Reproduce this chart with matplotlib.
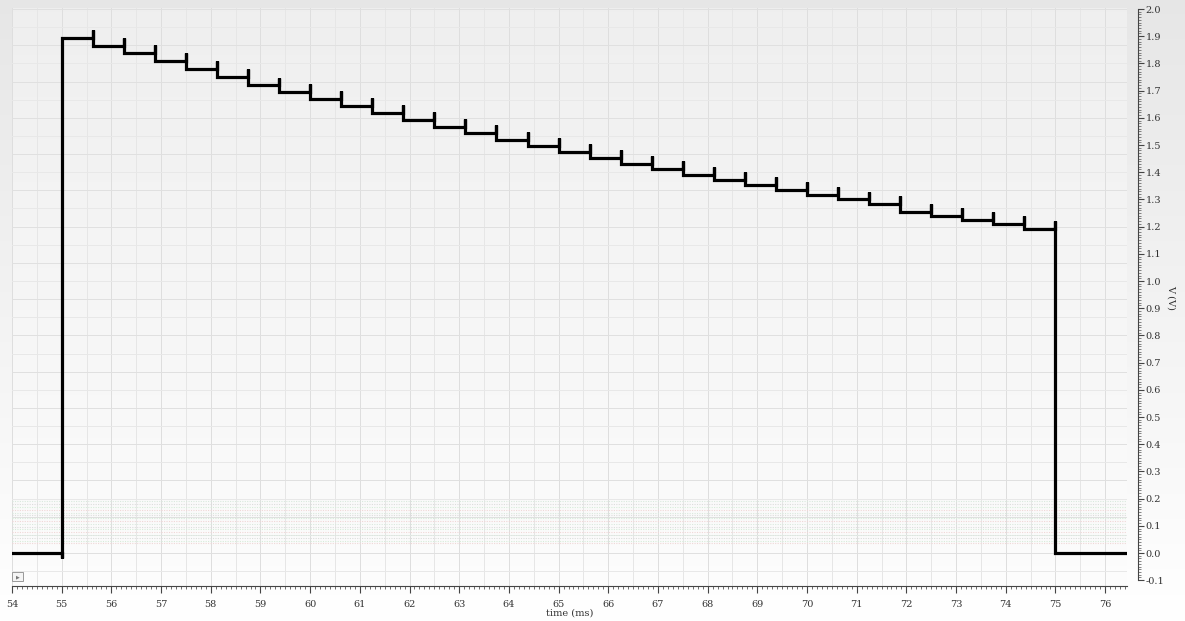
import numpy as np
import matplotlib
matplotlib.use("Agg")
import matplotlib.pyplot as plt
from matplotlib.ticker import MultipleLocator, FixedLocator
from matplotlib.patches import Rectangle

# ---------------- data ----------------
pulse_start = 55.0
pulse_end = 75.0
baseline = 0.0
start_dip = -0.02
step_times = [55.625, 56.25, 56.875, 57.5, 58.125, 58.75, 59.375, 60.0,
              60.625, 61.25, 61.875, 62.5, 63.125, 63.75, 64.375, 65.0,
              65.625, 66.25, 66.875, 67.5, 68.125, 68.75, 69.375, 70.0,
              70.625, 71.25, 71.875, 72.5, 73.125, 73.75, 74.375]
step_levels = [1.893, 1.864, 1.838, 1.810, 1.780, 1.750, 1.720, 1.695,
               1.670, 1.643, 1.618, 1.592, 1.566, 1.544, 1.518, 1.496,
               1.474, 1.452, 1.430, 1.412, 1.390, 1.371, 1.353, 1.335,
               1.316, 1.301, 1.283, 1.254, 1.239, 1.224, 1.210, 1.191]
spike = 0.028
x_range = (54.0, 76.44)
y_range = (-0.1213, 2.0037)
x_tick_labels = [str(v) for v in range(54, 77)]
y_ticks = [round(-0.1 + 0.1 * i, 1) for i in range(22)]
xlabel = "time (ms)"
ylabel = "V (V)"

# ---------------- build trace path ----------------
t = [x_range[0], pulse_start, pulse_start, pulse_start]
v = [baseline, baseline, start_dip, step_levels[0]]
for k, tk in enumerate(step_times):
    prev = step_levels[k]
    t += [tk, tk, tk]
    v += [prev, prev + spike, step_levels[k + 1]]
t += [pulse_end, pulse_end, pulse_end, x_range[1]]
v += [step_levels[-1], step_levels[-1] + spike, baseline, baseline]

# ---------------- figure ----------------
W, H = 1185, 621
fig = plt.figure(figsize=(W / 100, H / 100), dpi=100)
fig.patch.set_facecolor("white")

# figure background gradient
bg = fig.add_axes([0, 0, 1, 1], zorder=-10)
grad = np.linspace(0, 1, 256).reshape(-1, 1)
top_c = np.array([0.905, 0.905, 0.905])
bot_c = np.array([1.0, 1.0, 1.0])
img = top_c[None, None, :] * (1 - grad[:, :, None]) + bot_c[None, None, :] * grad[:, :, None]
img = np.concatenate([img[:1].repeat(3, axis=0), img], axis=0)
bg.imshow(img, aspect="auto", extent=(0, 1, 0, 1), origin="upper")
bg.set_axis_off()

left, right, top, bottom = 12, 1127, 8, 586
ax = fig.add_axes([left / W, 1 - bottom / H, (right - left) / W, (bottom - top) / H])
ax.set_xlim(*x_range)
ax.set_ylim(*y_range)
ax.set_facecolor("none")

# plot-area gradient
pgrad = np.linspace(0, 1, 256).reshape(-1, 1)
pc_top = np.array([0.937, 0.937, 0.937])
pc_bot = np.array([0.99, 0.99, 0.99])
pimg = pc_top[None, None, :] * (1 - pgrad[:, :, None]) + pc_bot[None, None, :] * pgrad[:, :, None]
ax.imshow(pimg, aspect="auto", extent=(x_range[0], x_range[1], y_range[0], y_range[1]),
          origin="upper", zorder=0)

# grid
for gx in np.arange(54.0, 76.5, 0.5):
    c = "#dedede" if abs(gx - round(gx)) < 1e-6 else "#e6e6e6"
    ax.axvline(gx, color=c, lw=0.7, zorder=1)
for k in range(-1, 31):
    gy = k / 15.0
    c = "#e0e0e0" if k % 2 == 0 else "#e8e8e8"
    ax.axhline(gy, color=c, lw=0.7, zorder=1)

# faint noise band
band_levels = np.linspace(0.035, 0.19, 16)
band_cols = ["#f0d6d6", "#d6ecd9", "#dcdcdc", "#d9e9dd"]
for i, by in enumerate(band_levels):
    ax.plot([x_range[0], x_range[1]], [by, by], color=band_cols[i % 4], lw=0.8,
            ls=(0, (1, 1.2)), zorder=2)

# trace
ax.plot(t, v, color="black", lw=2.3, solid_joinstyle="miter", zorder=5)

# spines/ticks
for s in ["top", "left"]:
    ax.spines[s].set_visible(False)
ax.spines["bottom"].set_color("#444444")
ax.spines["bottom"].set_linewidth(0.8)
ax.spines["right"].set_position(("outward", 8))
ax.spines["right"].set_bounds(-0.1, 2.0)
ax.spines["right"].set_color("#444444")
ax.spines["right"].set_linewidth(0.8)

ax.xaxis.set_major_locator(FixedLocator(list(range(54, 77))))
ax.set_xticklabels(x_tick_labels)
ax.xaxis.set_minor_locator(MultipleLocator(0.1))
ax.tick_params(axis="x", which="major", direction="out", length=5, width=0.8,
               color="#444444", labelsize=7, labelcolor="#333333", pad=5)
ax.tick_params(axis="x", which="minor", direction="out", length=2.5, width=0.6,
               color="#555555")

ax.yaxis.tick_right()
ax.yaxis.set_label_position("right")
ax.yaxis.set_major_locator(FixedLocator(y_ticks))
ax.set_yticklabels([f"{y:.1f}" for y in y_ticks])
ax.yaxis.set_minor_locator(FixedLocator(np.round(np.arange(-0.1, 2.0001, 0.01), 2)))
ax.tick_params(axis="y", which="major", direction="out", length=4.5, width=0.8,
               color="#444444", labelsize=7, labelcolor="#333333", pad=1)
ax.tick_params(axis="y", which="minor", direction="out", length=2, width=0.5,
               color="#555555")
for lab in ax.get_xticklabels() + ax.get_yticklabels():
    lab.set_family("DejaVu Serif")

ax.set_xlabel(xlabel, family="DejaVu Serif", fontsize=7, color="#333333", labelpad=0)
ax.set_ylabel(ylabel, family="DejaVu Serif", fontsize=7, color="#333333",
              rotation=270, labelpad=8)

# small play button
btn = Rectangle((12 / W, 1 - 581 / H), 11 / W, 9 / H, transform=fig.transFigure,
                facecolor="#f4f4f4", edgecolor="#999999", lw=0.7, zorder=20)
fig.patches.append(btn)
fig.text(17.5 / W, 1 - 576.5 / H, "\u25b6", fontsize=3.5, color="#777777",
         ha="center", va="center", zorder=21)

fig.savefig("out.png", dpi=100)
